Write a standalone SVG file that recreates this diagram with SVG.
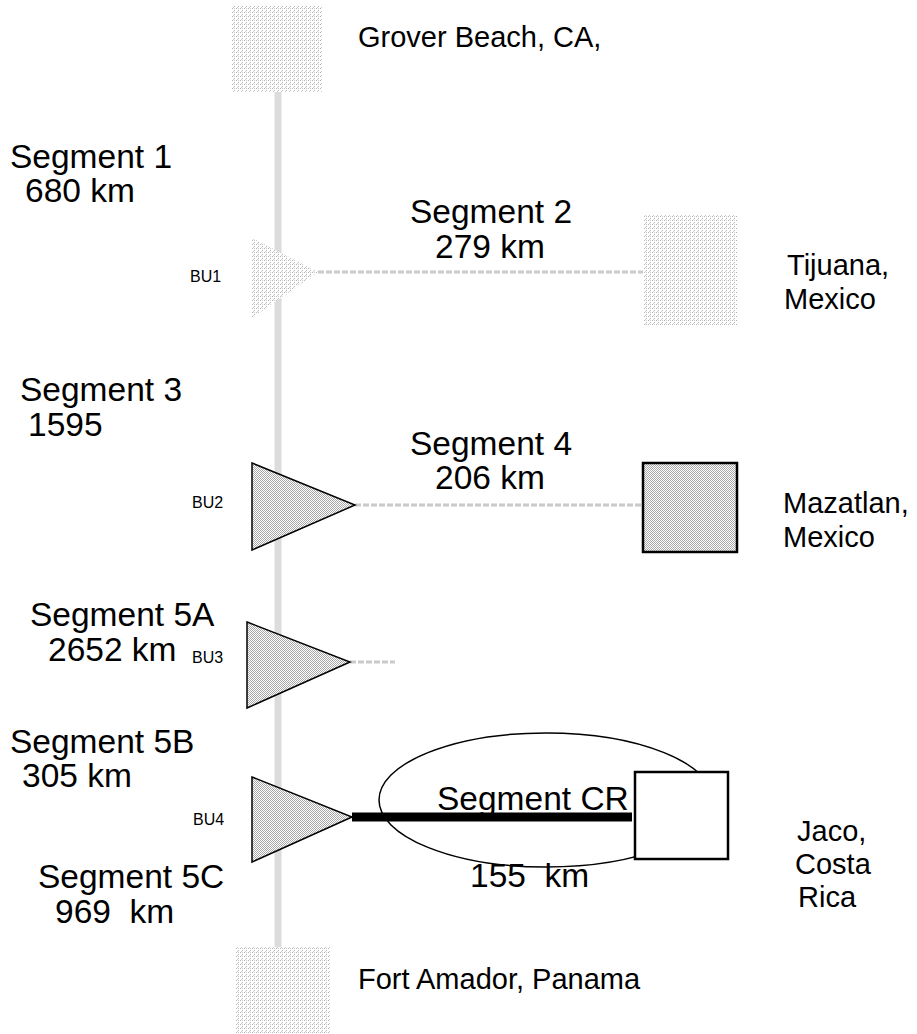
<svg xmlns="http://www.w3.org/2000/svg" width="917" height="1034" viewBox="0 0 917 1034">
<defs>
<pattern id="dots" width="2" height="2" patternUnits="userSpaceOnUse">
<rect width="2" height="2" fill="#ffffff"/>
<rect width="1" height="1" fill="#a8a8a8"/>
<rect x="1" y="1" width="1" height="1" fill="#a8a8a8"/>
</pattern>
<pattern id="faint" width="4" height="4" patternUnits="userSpaceOnUse">
<rect width="4" height="4" fill="#ffffff"/>
<rect width="1" height="1" fill="#b4b4b4"/>
<rect x="2" y="2" width="1" height="1" fill="#b4b4b4"/>
<rect x="2" y="0" width="1" height="1" fill="#cccccc"/>
<rect x="1" y="3" width="1" height="1" fill="#cccccc"/>
</pattern>
</defs>
<style>
text{font-family:"Liberation Sans",Arial,sans-serif;fill:#000}
.seg{font-size:33.5px}
.place{font-size:29px}
.bu{font-size:16px}
.faint{fill:url(#faint)}
.unit{fill:url(#dots);stroke:#000;stroke-width:1.5}
.cable{stroke:#cacaca;stroke-width:3;stroke-dasharray:6 2;fill:none}
</style>
<rect width="917" height="1034" fill="#ffffff"/>
<g id="connectors">
<line x1="278" y1="90" x2="278" y2="950" stroke="#dcdcdc" stroke-width="7"/>
<line class="cable" x1="318" y1="272" x2="643" y2="272"/>
<line class="cable" x1="355" y1="505" x2="643" y2="505"/>
<line class="cable" x1="350" y1="662" x2="395" y2="662"/>
<line x1="352" y1="817" x2="632" y2="817" stroke="#000" stroke-width="9"/>
</g>
<g id="grover-beach">
<rect class="faint" x="232" y="5" width="90" height="87"/>
<text class="place" x="358" y="47">Grover Beach, CA,</text>
</g>
<g id="bu1">
<polygon class="faint" points="252,238 318,272 252,318"/>
<text class="bu" x="190" y="282">BU1</text>
</g>
<g id="tijuana">
<rect class="faint" x="643" y="215" width="94" height="110"/>
<text class="place" x="787" y="275">Tijuana,</text>
<text class="place" x="784" y="309">Mexico</text>
</g>
<g id="bu2">
<polygon class="unit" points="252,463 355,505 252,550"/>
<text class="bu" x="192" y="508">BU2</text>
</g>
<g id="mazatlan">
<rect x="643" y="463" width="94" height="89" fill="url(#dots)" stroke="#000" stroke-width="2.5"/>
<text class="place" x="783" y="513">Mazatlan,</text>
<text class="place" x="783" y="547">Mexico</text>
</g>
<g id="bu3">
<polygon class="unit" points="247,622 350,662 247,708"/>
<text class="bu" x="192" y="663">BU3</text>
</g>
<g id="bu4">
<polygon class="unit" points="252,777 352,817 252,862"/>
<text class="bu" x="193" y="825">BU4</text>
</g>
<g id="segment-cr">
<ellipse cx="546" cy="800" rx="167" ry="67" fill="none" stroke="#000" stroke-width="1.5"/>
<text class="seg" x="437" y="810">Segment CR</text>
<text class="seg" x="470" y="887" xml:space="preserve">155  km</text>
</g>
<g id="jaco">
<rect x="635" y="772" width="93" height="87" fill="#ffffff" stroke="#000" stroke-width="2.5"/>
<text class="place" x="797" y="841">Jaco,</text>
<text class="place" x="795" y="874">Costa</text>
<text class="place" x="798" y="907">Rica</text>
</g>
<g id="fort-amador">
<rect class="faint" x="235" y="947" width="95" height="90"/>
<text class="place" x="358" y="989">Fort Amador, Panama</text>
</g>
<g id="segment-labels">
<text class="seg" x="10" y="168">Segment 1</text>
<text class="seg" x="25" y="202">680 km</text>
<text class="seg" x="410" y="223">Segment 2</text>
<text class="seg" x="435" y="258">279 km</text>
<text class="seg" x="20" y="401">Segment 3</text>
<text class="seg" x="28" y="436">1595</text>
<text class="seg" x="410" y="455">Segment 4</text>
<text class="seg" x="435" y="489">206 km</text>
<text class="seg" x="30" y="626">Segment 5A</text>
<text class="seg" x="48" y="661">2652 km</text>
<text class="seg" x="10" y="753">Segment 5B</text>
<text class="seg" x="22" y="787">305 km</text>
<text class="seg" x="38" y="888">Segment 5C</text>
<text class="seg" x="55" y="923" xml:space="preserve">969  km</text>
</g>
</svg>
